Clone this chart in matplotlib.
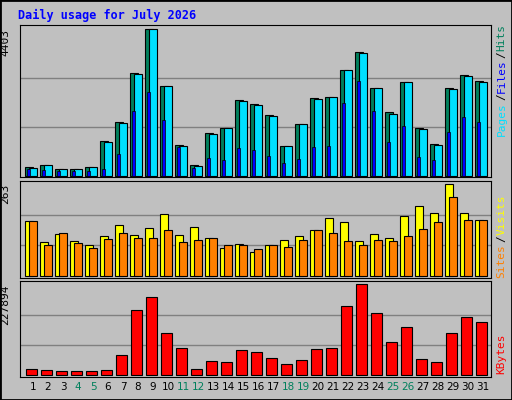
import matplotlib
matplotlib.use('Agg')
import matplotlib.pyplot as plt
import numpy as np
from matplotlib.patches import Rectangle

days = np.arange(1, 32)
hits = [270, 320, 200, 200, 270, 1041, 1611, 3092, 4403, 2692, 921, 320, 1281, 1431, 2272, 2152,
        1821, 891, 1551, 2332, 2362, 3172, 3713, 2632, 1912, 2812, 1431, 951, 2632, 3022, 2842]
files = [230, 320, 200, 200, 270, 1011, 1581, 3052, 4403, 2692, 891, 290, 1251, 1431, 2242, 2122,
         1791, 891, 1551, 2302, 2362, 3172, 3683, 2632, 1851, 2812, 1401, 921, 2602, 2992, 2812]
pages = [210, 170, 150, 140, 140, 210, 650, 1941, 2522, 1681, 861, 230, 530, 470, 831, 771,
         590, 380, 500, 861, 891, 2182, 2842, 1941, 1011, 1491, 560, 470, 1311, 1761, 1611]
visits = [157, 97, 120, 99, 88, 114, 145, 117, 137, 177, 117, 140, 108, 79, 91, 68,
          88, 102, 114, 131, 165, 154, 99, 120, 108, 171, 200, 180, 263, 180, 160]
sites = [157, 88, 122, 94, 79, 105, 122, 108, 108, 131, 97, 103, 108, 88, 88, 76,
         88, 82, 103, 131, 122, 99, 88, 103, 99, 114, 134, 154, 226, 160, 160]
kbytes = [15026, 12522, 10017, 10017, 10017, 12522, 50088, 162786, 195343, 105185, 67620, 15026,
          35062, 32557, 62611, 57602, 42575, 27548, 37566, 65116, 67620, 172803, 227894, 155272,
          82646, 120212, 40071, 32557, 105185, 145255, 132733]
weekends = [4, 5, 11, 12, 18, 19, 25, 26]

BG = '#C0C0C0'
GREEN = '#00805C'
MONO = 'DejaVu Sans Mono'
W, H = 512, 400

fig = plt.figure(figsize=(5.12, 4.0), dpi=100, facecolor=BG)
fig.patches.append(Rectangle((0, 0), 1, 1, transform=fig.transFigure, fill=False,
                             edgecolor='black', linewidth=2))
fig.text(18 / W, 1 - 15 / H, 'Daily usage for July 2026', color='#0000FF', fontsize=8.5,
         fontweight='bold', family=MONO, va='center')


def make_ax(top, bottom, ymin, ymax, vmax):
    ax = fig.add_axes([20 / W, 1 - bottom / H, 471 / W, (bottom - top) / H], facecolor=BG)
    ax.set_xlim(0.133, 31.53)
    ax.set_ylim(ymin, ymax)
    for y in (vmax / 3, 2 * vmax / 3):
        ax.axhline(y, color='#808080', linewidth=1, zorder=0)
    ax.set_xticks([])
    ax.set_yticks([])
    for s in ax.spines.values():
        s.set_color('black')
    ax.text(-0.02, vmax, str(vmax), transform=ax.get_yaxis_transform(), rotation=90,
            ha='right', va='top', fontsize=8, family=MONO)
    return ax


# top: hits / files / pages
ax1 = make_ax(24.7, 177, -30, 4532, 4403)
ax1.bar(days - 0.53, hits, width=0.53, align='edge', color=GREEN, edgecolor='black', linewidth=0.8)
ax1.bar(days - 0.27, files, width=0.54, align='edge', color='#00E0FF', edgecolor='black', linewidth=0.8)
ax1.bar(days - 0.4, pages, width=0.2, align='edge', color='#0000FF', edgecolor='black', linewidth=0.5)

# middle: visits / sites
ax2 = make_ax(180.7, 278, -5.7, 273, 263)
ax2.bar(days - 0.53, visits, width=0.53, align='edge', color='#FFFF00', edgecolor='black', linewidth=0.8)
ax2.bar(days - 0.27, sites, width=0.54, align='edge', color='#FF8000', edgecolor='black', linewidth=0.8)

# bottom: kbytes
ax3 = make_ax(281, 377, -4300, 236100, 227894)
ax3.bar(days - 0.47, kbytes, width=0.74, align='edge', color='#FF0000', edgecolor='black', linewidth=0.8)

for d in days:
    ax3.text(d, -0.1, str(d), transform=ax3.get_xaxis_transform(), ha='center', va='center',
             fontsize=7.5, color=GREEN if d in weekends else 'black')

# right side legends
def side_label(ax, parts, y0):
    y = y0
    for txt, col in parts:
        t = ax.text(1.012, y, txt, transform=ax.transAxes, rotation=90, ha='left', va='bottom',
                    fontsize=8, family=MONO, color=col)
        y += len(txt) * 0.64 * 8 / 72 * 100 / (ax.get_position().height * H)

side_label(ax1, [('Pages', '#00E0FF'), ('/', 'black'), ('Files', '#0000FF'), ('/', 'black'), ('Hits', GREEN)], 0.27)
side_label(ax2, [('Sites', '#FF8000'), ('/', 'black'), ('Visits', '#FFFF00')], 0.0)
side_label(ax3, [('KBytes', '#FF0000')], 0.03)

fig.savefig('out.png', dpi=100, facecolor=BG)
